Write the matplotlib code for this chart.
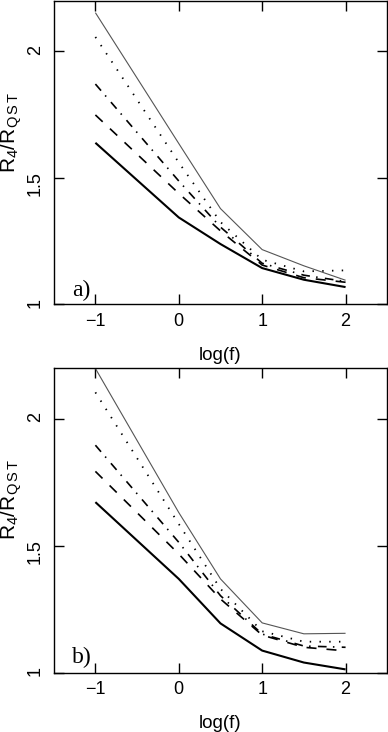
"""Two stacked panels: R4/RQST ratio against log(f) for five curves."""

import matplotlib

matplotlib.use("Agg")
import matplotlib.pyplot as plt

LOG_F = [-1, 0, 0.5, 1, 1.5, 2]

# panel a)
A_THIN = [2.152, 1.635, 1.378, 1.216, 1.152, 1.095]
A_DOTTED = [2.056, 1.560, 1.325, 1.176, 1.130, 1.134]
A_DASHDOT = [1.870, 1.487, 1.305, 1.162, 1.115, 1.090]
A_DASHED = [1.748, 1.438, 1.290, 1.155, 1.105, 1.087]
A_THICK = [1.638, 1.343, 1.238, 1.143, 1.097, 1.068]

# panel b)
B_THIN = [2.197, 1.630, 1.369, 1.196, 1.153, 1.155]
B_DOTTED = [2.103, 1.585, 1.330, 1.163, 1.122, 1.122]
B_DASHDOT = [1.895, 1.513, 1.303, 1.152, 1.105, 1.100]
B_DASHED = [1.792, 1.467, 1.290, 1.148, 1.100, 1.086]
B_THICK = [1.671, 1.369, 1.194, 1.087, 1.040, 1.013]

X_TICKS = [-1, 0, 1, 2]
Y_TICKS = [1, 1.5, 2]
Y_TICK_LABELS = ["1", "1.5", "2"]

STYLES = [
    dict(color="#555555", linewidth=0.8, linestyle="-"),
    dict(color="black", linewidth=1.3, linestyle=(0, (0.8, 4.6))),
    dict(color="black", linewidth=1.2, linestyle=(0, (5.2, 3.8, 0.9, 4.4))),
    dict(color="black", linewidth=1.2, linestyle=(0, (6.0, 6.0))),
    dict(color="black", linewidth=1.5, linestyle="-"),
]

SANS = ["Liberation Sans", "DejaVu Sans"]
SERIF = ["Liberation Serif", "DejaVu Serif"]


def draw_panel(fig, rect, series, tag, tag_y):
    ax = fig.add_axes(rect)
    for values, style in zip(series, STYLES):
        ax.plot(LOG_F, values, solid_capstyle="butt", dash_capstyle="butt", **style)

    ax.set_xlim(-1.5, 2.5)
    ax.set_ylim(1.0, 2.2)
    ax.set_xticks(X_TICKS)
    ax.set_yticks(Y_TICKS)
    ax.set_yticklabels(Y_TICK_LABELS)
    ax.tick_params(direction="in", length=7, width=1.0, top=True, right=True,
                   labelsize=13, pad=6)
    ax.tick_params(axis="y", labelrotation=90, pad=7)
    for label in ax.get_xticklabels() + ax.get_yticklabels():
        label.set_family(SANS)
    for spine in ax.spines.values():
        spine.set_linewidth(1.0)

    ax.text(0.055, tag_y, tag, transform=ax.transAxes, family=SERIF,
            fontsize=17, ha="left", va="baseline")
    ax.text(0.5, -0.139, "log(f)", transform=ax.transAxes, family=SANS,
            fontsize=13.5, ha="center", va="top")
    ax.text(-0.127, 0.566, r"R$_4$/R$_{\mathrm{Q\,S\,T}}$", transform=ax.transAxes,
            family=SANS, fontsize=15, rotation=90, ha="center", va="center")
    return ax


def main():
    plt.rcParams["mathtext.fontset"] = "custom"
    plt.rcParams["mathtext.rm"] = "Liberation Sans"
    plt.rcParams["mathtext.it"] = "Liberation Sans"
    plt.rcParams["font.family"] = SANS

    fig = plt.figure(figsize=(3.88, 7.32), dpi=100)
    draw_panel(fig, [0.1384, 0.5843, 0.8597, 0.4150],
               [A_THIN, A_DOTTED, A_DASHDOT, A_DASHED, A_THICK], "a)", 0.026)
    draw_panel(fig, [0.1384, 0.0810, 0.8597, 0.4167],
               [B_THIN, B_DOTTED, B_DASHDOT, B_DASHED, B_THICK], "b)", 0.032)
    fig.savefig("out.png", dpi=100)
    plt.close(fig)


if __name__ == "__main__":
    main()
